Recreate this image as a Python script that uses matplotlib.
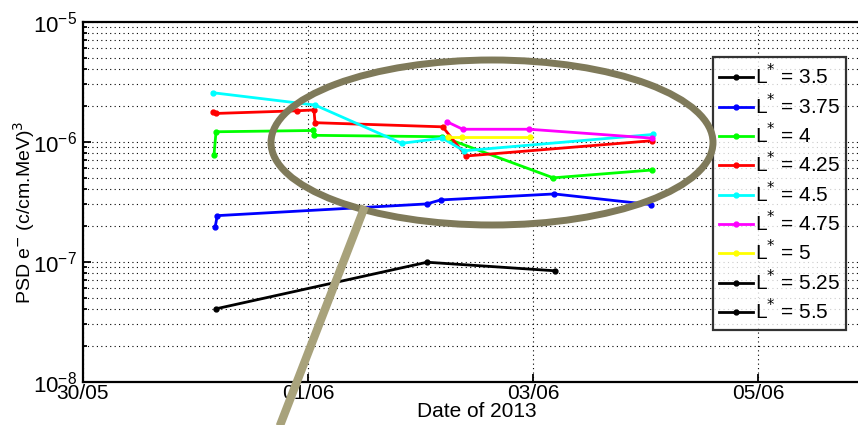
import datetime as dt

import matplotlib.dates as mdates
import matplotlib.pyplot as plt
from matplotlib.lines import Line2D
from matplotlib.patches import Ellipse
from matplotlib.ticker import LogLocator, NullFormatter

plt.rcParams['font.family'] = ['Liberation Sans', 'DejaVu Sans']

# Days elapsed since 30/05/2013 00:00, and PSD values for each L* shell
t0 = dt.datetime(2013, 5, 30)
l_labels = ['3.5', '3.75', '4', '4.25', '4.5', '4.75', '5', '5.25', '5.5']
l_colors = ['black', '#0000ff', '#00ff00', '#ff0000', '#00ffff', '#ff00ff', '#ffff00', 'black', 'black']

days_35 = [1.184, 3.058, 4.194]
psd_35 = [4.05e-8, 9.9e-8, 8.4e-8]

days_375 = [1.177, 1.195, 3.055, 3.179, 4.188, 5.047]
psd_375 = [1.96e-7, 2.42e-7, 3.03e-7, 3.27e-7, 3.67e-7, 2.99e-7]

days_4 = [1.166, 1.184, 2.048, 2.057, 3.191, 4.179, 5.058]
psd_4 = [7.75e-7, 1.21e-6, 1.24e-6, 1.13e-6, 1.10e-6, 5.0e-7, 5.81e-7]

days_425 = [1.160, 1.184, 1.906, 2.054, 2.063, 3.197, 3.404, 5.059]
psd_425 = [1.78e-6, 1.72e-6, 1.81e-6, 1.84e-6, 1.44e-6, 1.33e-6, 7.6e-7, 1.02e-6]

days_45 = [1.155, 2.063, 2.833, 3.194, 3.386, 5.067]
psd_45 = [2.56e-6, 2.02e-6, 9.7e-7, 1.07e-6, 8.4e-7, 1.15e-6]

days_475 = [3.233, 3.375, 3.966, 5.059]
psd_475 = [1.47e-6, 1.27e-6, 1.27e-6, 1.07e-6]

days_5 = [3.247, 3.366, 3.972]
psd_5 = [1.10e-6, 1.10e-6, 1.10e-6]

days_525 = []
psd_525 = []
days_55 = []
psd_55 = []

series = [
    (days_35, psd_35), (days_375, psd_375), (days_4, psd_4),
    (days_425, psd_425), (days_45, psd_45), (days_475, psd_475),
    (days_5, psd_5), (days_525, psd_525), (days_55, psd_55),
]

fig = plt.figure(figsize=(8.58, 4.25), dpi=100)
W, H = 858, 425
# axes run past the right edge of the figure
ax = fig.add_axes([82.7 / W, 1 - 381.7 / H, 7 * 112.6 / W, 360 / H])

for (days, psd), lab, col in zip(series, l_labels, l_colors):
    times = [t0 + dt.timedelta(days=d) for d in days]
    ax.plot(times, psd, '-', color=col, lw=2, marker='.', ms=7,
            label=r'L$^{*}$ = ' + lab)

ax.set_yscale('log')
ax.set_ylim(1e-8, 1e-5)
ax.set_xlim(t0, t0 + dt.timedelta(days=7))
ax.xaxis.set_major_locator(mdates.DayLocator(bymonthday=[30, 1, 3, 5]))
ax.xaxis.set_major_formatter(mdates.DateFormatter('%d/%m'))
ax.yaxis.set_minor_locator(LogLocator(base=10, subs=range(2, 10)))
ax.yaxis.set_minor_formatter(NullFormatter())

ax.grid(True, which='major', axis='both', ls=(0, (1, 3)), color='black', lw=0.8)
ax.grid(True, which='minor', axis='y', ls=(0, (1, 3)), color='black', lw=0.8)
ax.tick_params(which='both', direction='in', width=1.3)
ax.tick_params(axis='x', labelsize=15, pad=2)
ax.tick_params(axis='y', labelsize=16, pad=4)
ax.tick_params(which='major', length=6)
ax.tick_params(which='minor', length=3)
for sp in ax.spines.values():
    sp.set_linewidth(1.6)

ax.set_xlabel('Date of 2013', fontsize=15, labelpad=-1)
ax.set_ylabel(r'PSD e$^{-}$ (c/cm.MeV)$^3$', fontsize=14)
ax.yaxis.set_label_coords(-0.058, 0.47)

leg = ax.legend(loc='upper left', bbox_to_anchor=(713 / W, 1 - 57 / H),
                bbox_transform=fig.transFigure, fontsize=15, frameon=True,
                fancybox=False, edgecolor='black', handlelength=1.6,
                handletextpad=0.1, labelspacing=0.2, borderpad=0.3,
                borderaxespad=0)
leg.get_frame().set_linewidth(1.6)

# title sits above the figure edge
fig.text(0.53, 1 + 3 / H, r'Time evolution of PSD at $\mu$ = 700 MeV/G and K = 0.11 G$^{1/2}$R$_E$',
         ha='center', va='baseline', fontsize=14)

# zoom callout: ellipse and pointer line
fig.add_artist(Line2D([365 / W, 279 / W], [1 - 206 / H, 1 - 428 / H],
                      color='#a8a27b', lw=6, solid_capstyle='butt'))
fig.add_artist(Ellipse((492 / W, 1 - 142.5 / H), 442 / W, 165 / H,
                       fill=False, edgecolor='#7f7a5a', lw=5))

fig.savefig('out.png', dpi=100)
